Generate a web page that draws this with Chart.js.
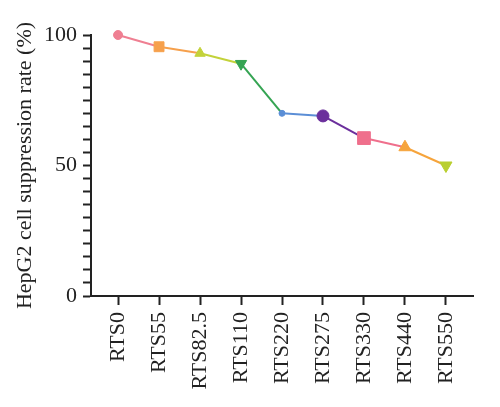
<!DOCTYPE html>
<html>
<head>
<meta charset="utf-8">
<script src="https://cdn.jsdelivr.net/npm/chart.js@4.4.0/dist/chart.umd.min.js"></script>
<style>
  html, body { margin: 0; padding: 0; background: #fff; }
  #wrap { width: 500px; height: 407px; }
</style>
</head>
<body>
<div id="wrap"><canvas id="chart"></canvas></div>
<script>
// categorias e valores
const labels = ['RTS0', 'RTS55', 'RTS82.5', 'RTS110', 'RTS220', 'RTS275', 'RTS330', 'RTS440', 'RTS550'];
const rates = [100, 95.5, 93, 89, 70, 69, 60.5, 57, 50];
const yTicks = [0, 50, 100];

// estilo dos marcadores
const colors = ['#ef7f92', '#f6a04c', '#c3d23a', '#35a453', '#5b8ed6', '#6b2f9c', '#ef6f8c', '#f6a43c', '#b9cf2f'];
const styles = ['circle', 'rect', 'triangle', 'triangle', 'circle', 'circle', 'rect', 'triangle', 'triangle'];
const rotations = [0, 0, 0, 180, 0, 0, 0, 0, 180];
const radii = [4.5, 7, 6, 6.5, 3, 6, 9, 7, 7];

const serif = "'Liberation Serif', 'DejaVu Serif', serif";

// marcas menores a cada 5 no eixo y
const minorTicks = [];
for (let v = 0; v <= 100; v += 5) minorTicks.push({ value: v });

const ctx = document.getElementById('chart').getContext('2d');
new Chart(ctx, {
    type: 'line',
    data: {
        datasets: [{
            data: rates.map((v, i) => ({ x: i, y: v })),
            borderWidth: 2,
            borderColor: colors[0],
            segment: {
                borderColor: c => colors[c.p0DataIndex]
            },
            pointStyle: styles,
            rotation: rotations,
            pointRadius: radii,
            pointBackgroundColor: colors,
            pointBorderColor: colors,
            pointBorderWidth: 1,
            clip: false,
            tension: 0
        }]
    },
    options: {
        responsive: true,
        maintainAspectRatio: false,
        animation: false,
        layout: { padding: { top: 35, right: 27, left: 2, bottom: 0 } },
        plugins: { legend: { display: false }, tooltip: { enabled: false } },
        scales: {
            x: {
                type: 'linear',
                min: -0.66,
                max: 8.66,
                afterBuildTicks: s => { s.ticks = labels.map((_, i) => ({ value: i })); },
                afterFit: s => { s.height = 407 - 296; },
                border: { color: '#222', width: 2 },
                grid: { drawOnChartArea: false, tickLength: 9, tickColor: '#222', tickWidth: 2 },
                ticks: {
                    autoSkip: false,
                    maxRotation: 90,
                    minRotation: 90,
                    padding: 7,
                    color: '#222',
                    font: { family: serif, size: 22 },
                    callback: v => labels[v]
                }
            },
            y: {
                min: 0,
                max: 100,
                afterBuildTicks: s => { s.ticks = minorTicks.map(t => ({ value: t.value })); },
                afterFit: s => { s.width = 91 - 2; },
                border: { color: '#222', width: 2 },
                grid: { drawOnChartArea: false, tickLength: 8, tickColor: '#222', tickWidth: 2 },
                ticks: {
                    autoSkip: false,
                    padding: 6,
                    color: '#222',
                    font: { family: serif, size: 22 },
                    callback: v => yTicks.includes(v) ? v : ''
                },
                title: {
                    display: true,
                    text: 'HepG2 cell suppression rate (%)',
                    color: '#222',
                    font: { family: serif, size: 22 },
                    padding: { top: 10, bottom: 0 }
                }
            }
        }
    }
});
</script>
</body>
</html>
